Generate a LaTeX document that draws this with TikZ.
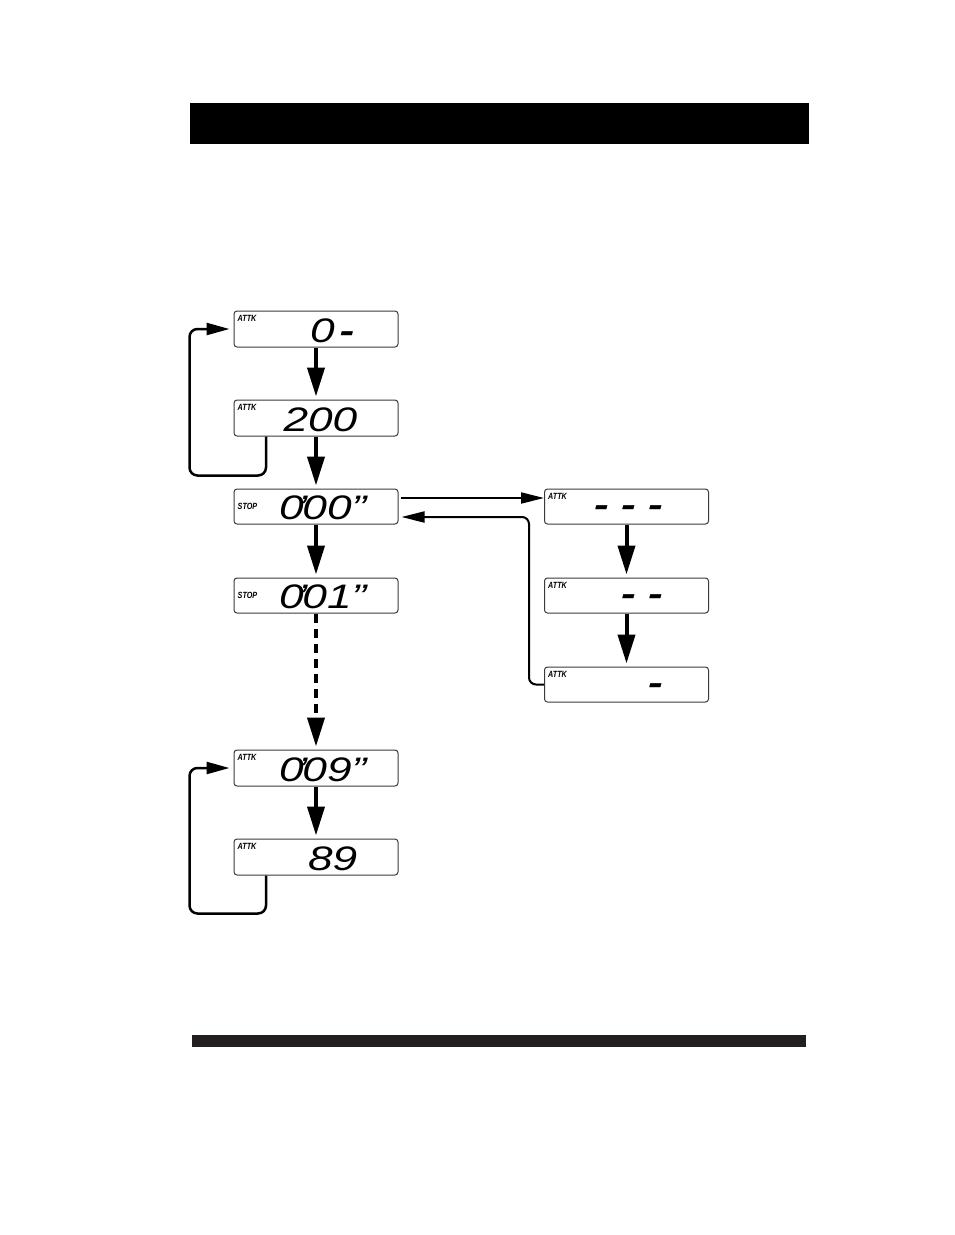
\documentclass[tikz,border=0pt]{standalone}
\usepackage{fontspec}
\setmainfont{Liberation Sans}
\newfontfamily\segfont[FakeStretch=1.3]{Liberation Sans}
\newfontfamily\tagfont[FakeStretch=0.8]{Liberation Sans}
\usetikzlibrary{arrows.meta, positioning}
\definecolor{cbar}{HTML}{231F20}
\definecolor{cedge}{HTML}{3A3A3A}
\tikzset{
  every picture/.style={x=1pt, y=-1pt},
  lcd/.style={draw=cedge, line width=1pt, rounded corners=3pt, minimum width=164pt, minimum height=#1, inner sep=0pt},
  lcd/.default=36pt,
  tag/.style={font=\tagfont\bfseries\itshape\fontsize{9}{9}\selectfont, inner sep=0pt},
  digits/.style={font=\segfont\itshape\fontsize{34}{34}\selectfont, inner sep=0pt, anchor=base east},
  dashes/.style={digits, font=\segfont\bfseries\itshape\fontsize{34}{34}\selectfont},
  flow/.style={-{Triangle[length=29pt, width=17pt]}, line width=4pt, shorten >=3pt},
  back/.style={-{Triangle[length=23pt, width=12pt]}, line width=2.5pt, rounded corners=8pt, shorten >=4pt},
  side/.style={-{Triangle[length=23pt, width=11pt]}, line width=2pt, rounded corners=7pt},
}

\begin{document}
\begin{tikzpicture}
  \useasboundingbox (0,0) rectangle (954,1235);
  \fill (190,103) rectangle (809,144);
  \fill[cbar] (192,1035) rectangle (806,1047);

  % left column
  \node[lcd] (b1) at (316,329) {};
  \node[lcd] (b2) at (316,418) {};
  \node[lcd=35pt] (b3) at (316,506.5) {};
  \node[lcd=35pt] (b4) at (316,595.5) {};
  \node[lcd] (b5) at (316,768) {};
  \node[lcd] (b6) at (316,857) {};
  % right column
  \node[lcd=35pt] (r1) at (626.5,506.5) {};
  \node[lcd=35pt] (r2) at (626.5,595.5) {};
  \node[lcd=35pt] (r3) at (626.5,684.5) {};

  \node[tag, below right=5pt and 4pt of b1.north west] (t1) {ATTK};
  \node[tag, below right=5pt and 4pt of b2.north west] (t2) {ATTK};
  \node[tag, right=4pt of b3.west] (t3) {STOP};
  \node[tag, right=4pt of b4.west] (t4) {STOP};
  \node[tag, below right=5pt and 4pt of b5.north west] (t5) {ATTK};
  \node[tag, below right=5pt and 4pt of b6.north west] (t6) {ATTK};
  \node[tag, below right=5pt and 4pt of r1.north west] (u1) {ATTK};
  \node[tag, below right=5pt and 4pt of r2.north west] (u2) {ATTK};
  \node[tag, below right=5pt and 4pt of r3.north west] (u3) {ATTK};

  \node[digits] (d1) at ([xshift=-44pt, yshift=-13pt]b1.east) {0\kern5pt{\bfseries -}};
  \node[digits] (d2) at ([xshift=-41pt, yshift=-13pt]b2.east) {200};
  \node[digits] (d3) at ([xshift=-32pt, yshift=-13pt]b3.east) {0\kern-6pt’\kern-5pt00”};
  \node[digits] (d4) at ([xshift=-32pt, yshift=-13pt]b4.east) {0\kern-6pt’\kern-5pt01”};
  \node[digits] (d5) at ([xshift=-32pt, yshift=-13pt]b5.east) {0\kern-6pt’\kern-5pt09”};
  \node[digits] (d6) at ([xshift=-41pt, yshift=-13pt]b6.east) {89};
  \node[dashes] (e1) at ([xshift=-46pt, yshift=-10pt]r1.east) {- - -};
  \node[dashes] (e2) at ([xshift=-46pt, yshift=-10pt]r2.east) {- -};
  \node[dashes] (e3) at ([xshift=-46pt, yshift=-10pt]r3.east) {-};

  \draw[flow] (b1) -- (b2);
  \draw[flow] (b2) -- (b3);
  \draw[flow] (b3) -- (b4);
  \draw[flow, dash pattern=on 9pt off 6pt] (b4) -- (b5);
  \draw[flow] (b5) -- (b6);
  \draw[flow] (r1) -- (r2);
  \draw[flow] (r2) -- (r3);
  % return loops
  \draw[back] ([xshift=-50pt]b2.south) -- ++(0,39) -| ([xshift=-44pt]b1.west) -- (b1.west);
  \draw[back] ([xshift=-50pt]b6.south) -- ++(0,38) -| ([xshift=-44pt]b5.west) -- (b5.west);
  \draw[side, shorten <=2pt] ([yshift=8.5pt]b3.east) -- ([yshift=8.5pt]r1.west);
  \draw[side, shorten >=3pt] (r3.west) -- ++(-15,0) |- ([yshift=-10.5pt]b3.east);
\end{tikzpicture}
\end{document}
